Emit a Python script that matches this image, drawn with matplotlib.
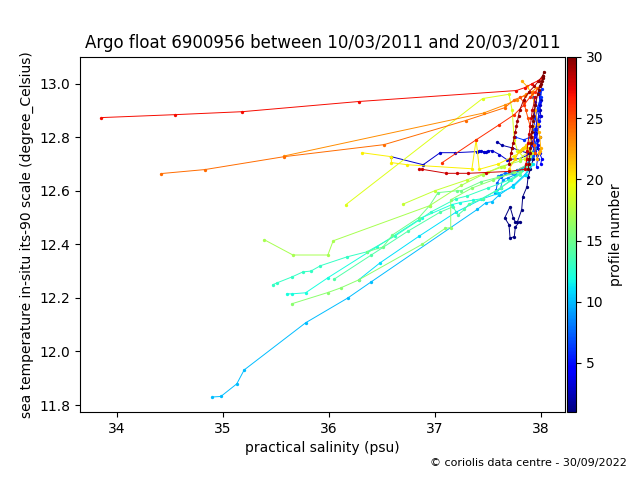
import numpy as np
import matplotlib
matplotlib.use("Agg")
import matplotlib.pyplot as plt
from matplotlib import cm
from matplotlib.colors import Normalize

# (salinity, temperature) pairs per profile
p01 = [(37.99, 12.80), (37.96, 12.76), (37.93, 12.72), (37.90, 12.68), (37.88, 12.65),
       (37.87, 12.615), (37.83, 12.578), (37.82, 12.529), (37.78, 12.484), (37.76, 12.484),
       (37.74, 12.499), (37.71, 12.54), (37.66, 12.499), (37.70, 12.473), (37.71, 12.424),
       (37.75, 12.428), (37.76, 12.465), (37.80, 12.484)]
p02 = [(37.59, 12.783), (37.63, 12.77), (37.73, 12.76), (37.80, 12.75), (37.88, 12.74),
       (37.93, 12.77), (37.95, 12.82), (37.97, 12.86), (37.99, 12.90), (38.00, 12.94), (37.98, 12.96)]
p03 = [(36.59, 12.727), (36.89, 12.697), (37.05, 12.742), (37.19, 12.742), (37.40, 12.746),
       (37.42, 12.748), (37.44, 12.748), (37.46, 12.746), (37.48, 12.746), (37.50, 12.748),
       (37.54, 12.75), (37.61, 12.735), (37.68, 12.716), (37.80, 12.72), (37.92, 12.74),
       (37.96, 12.79), (37.98, 12.84), (38.00, 12.88), (37.99, 12.92)]
p04 = [(37.93, 12.95), (37.95, 12.93), (37.95, 12.92), (37.94, 12.90), (37.94, 12.88),
       (37.96, 12.86), (37.96, 12.85), (37.95, 12.83), (37.95, 12.81), (37.97, 12.79),
       (37.97, 12.77), (37.98, 12.755), (37.99, 12.74), (38.01, 12.72), (38.00, 12.70)]
p05 = [(37.98, 12.97), (37.99, 12.95), (37.99, 12.93), (37.97, 12.91), (37.97, 12.90),
       (37.98, 12.88), (37.98, 12.86), (37.97, 12.845), (37.96, 12.83), (37.94, 12.80),
       (37.93, 12.785), (37.92, 12.77), (37.95, 12.75), (37.96, 12.735), (37.97, 12.72), (37.96, 12.69)]
p06 = [(37.76, 12.80), (37.84, 12.79), (37.90, 12.80), (37.93, 12.83), (37.95, 12.87),
       (37.97, 12.91), (38.00, 12.95), (38.01, 12.98)]
p07 = [(37.58, 12.603), (37.59, 12.63), (37.62, 12.65), (37.70, 12.665), (37.80, 12.68),
       (37.88, 12.70), (37.93, 12.73), (37.95, 12.78)]
p08 = [(37.60, 12.655), (37.62, 12.658), (37.66, 12.665), (37.73, 12.667), (37.78, 12.679),
       (37.80, 12.68), (37.82, 12.68), (37.88, 12.70), (37.92, 12.74), (37.95, 12.76)]
p09 = [(37.57, 12.59), (37.62, 12.61), (37.64, 12.64), (37.69, 12.648), (37.76, 12.66),
       (37.85, 12.69), (37.90, 12.72)]
p10 = [(34.90, 11.83), (34.98, 11.832), (35.13, 11.879), (35.20, 11.931), (35.78, 12.107),
       (36.18, 12.20), (36.40, 12.26), (37.40, 12.53), (37.48, 12.555), (37.54, 12.559),
       (37.61, 12.585), (37.74, 12.62), (37.85, 12.66), (37.92, 12.70)]
p11 = [(36.28, 12.267), (36.48, 12.33), (36.85, 12.43), (37.20, 12.52), (37.45, 12.57),
       (37.60, 12.59), (37.74, 12.615), (37.86, 12.66), (37.93, 12.70)]
p12 = [(35.60, 12.215), (35.65, 12.215), (35.78, 12.219), (35.99, 12.275), (36.45, 12.39),
       (36.88, 12.50), (37.16, 12.548), (37.24, 12.556), (37.36, 12.565), (37.44, 12.57),
       (37.58, 12.60), (37.72, 12.64), (37.86, 12.68)]
p13 = [(35.47, 12.249), (35.51, 12.256), (35.65, 12.278), (35.755, 12.297), (35.83, 12.30),
       (35.92, 12.32), (36.17, 12.353), (36.36, 12.372), (36.62, 12.43), (36.85, 12.49),
       (36.96, 12.52), (37.20, 12.57), (37.30, 12.58), (37.50, 12.61), (37.70, 12.64), (37.86, 12.68)]
p14 = [(36.05, 12.27), (36.40, 12.36), (36.75, 12.45), (37.05, 12.52), (37.17, 12.54),
       (37.22, 12.51), (37.28, 12.53), (37.32, 12.55), (37.45, 12.57), (37.62, 12.61),
       (37.80, 12.66), (37.90, 12.70)]
p15 = [(36.36, 12.372), (36.51, 12.39), (36.60, 12.435), (36.85, 12.50), (36.95, 12.544),
       (37.03, 12.593), (37.21, 12.60), (37.25, 12.60), (37.44, 12.634), (37.60, 12.65),
       (37.80, 12.67), (37.90, 12.70)]
p16 = [(35.65, 12.178), (35.99, 12.22), (36.11, 12.237), (36.28, 12.267), (36.88, 12.40),
       (37.10, 12.46), (37.15, 12.462), (37.15, 12.566), (37.35, 12.61), (37.55, 12.64),
       (37.75, 12.67), (37.88, 12.70)]
p17 = [(35.39, 12.417), (35.66, 12.36), (35.99, 12.36), (36.04, 12.413), (36.95, 12.544),
       (37.25, 12.62), (37.45, 12.66), (37.62, 12.69), (37.80, 12.71), (37.90, 12.73)]
p18 = [(36.70, 12.55), (37.00, 12.60), (37.30, 12.64), (37.50, 12.67), (37.65, 12.69),
       (37.80, 12.72), (37.90, 12.75)]
p19 = [(36.16, 12.548), (37.45, 12.944), (37.70, 12.96), (37.73, 12.90), (37.75, 12.79),
       (37.78, 12.75), (37.85, 12.72), (37.92, 12.74)]
p20 = [(36.31, 12.742), (36.59, 12.727), (36.59, 12.705), (36.74, 12.697), (37.35, 12.682),
       (37.39, 12.79), (37.42, 12.68), (37.60, 12.70), (37.75, 12.73), (37.88, 12.76)]
p21 = [(37.70, 12.68), (37.76, 12.72), (37.80, 12.75), (37.82, 12.755), (37.83, 12.76),
       (37.85, 12.765), (37.86, 12.77), (37.89, 12.78), (37.91, 12.80), (37.93, 12.84)]
p22 = [(37.82, 13.01), (37.87, 12.99), (37.92, 12.96), (37.95, 12.90), (37.97, 12.85),
       (37.98, 12.82), (37.99, 12.80), (38.00, 12.76), (37.99, 12.75), (37.98, 12.74), (37.96, 12.72)]
p23 = [(35.58, 12.73), (37.46, 12.89), (37.66, 12.92), (37.78, 12.94), (37.86, 12.96),
       (37.92, 12.97), (37.96, 12.985)]
p24 = [(34.415, 12.664), (34.83, 12.679), (35.575, 12.727), (36.52, 12.772), (37.29, 12.862),
       (37.66, 12.91), (37.75, 12.94), (37.85, 12.955), (37.92, 12.97)]
p25 = [(37.80, 12.95), (37.84, 12.93), (37.86, 12.90), (37.88, 12.87), (37.90, 12.84),
       (37.92, 12.80), (37.94, 12.77), (37.95, 12.74)]
p26 = [(37.07, 12.705), (37.39, 12.79), (37.61, 12.847), (37.75, 12.884), (37.84, 12.92),
       (37.90, 12.95), (37.95, 12.97), (37.99, 12.99)]
p27 = [(33.85, 12.873), (34.55, 12.884), (35.18, 12.895), (36.28, 12.933), (37.77, 12.974),
       (37.85, 12.985), (37.92, 13.00), (37.97, 13.01), (38.01, 13.02)]
p28 = [(36.85, 12.68), (36.88, 12.68), (37.11, 12.665), (37.21, 12.665), (37.31, 12.665),
       (37.48, 12.668), (37.70, 12.672), (37.85, 12.68), (37.86, 12.70), (37.87, 12.72),
       (37.87, 12.75), (37.88, 12.78), (37.89, 12.81), (37.90, 12.84), (37.91, 12.87),
       (37.92, 12.90), (37.95, 12.95)]
p29 = [(37.70, 12.70), (37.71, 12.72), (37.72, 12.74), (37.73, 12.76), (37.74, 12.78),
       (37.75, 12.80), (37.76, 12.82), (37.77, 12.84), (37.78, 12.86), (37.79, 12.88),
       (37.80, 12.90), (37.84, 12.94), (37.89, 12.97), (37.94, 12.99), (37.98, 13.01), (38.02, 13.03)]
p30 = [(37.88, 12.68), (37.89, 12.70), (37.89, 12.72), (37.90, 12.74), (37.90, 12.76),
       (37.91, 12.78), (37.91, 12.80), (37.92, 12.82), (37.92, 12.84), (37.93, 12.86),
       (37.93, 12.88), (37.95, 12.92), (37.97, 12.96), (37.98, 12.975), (37.99, 12.99),
       (38.00, 13.00), (38.01, 13.01), (38.02, 13.02), (38.02, 13.03), (38.03, 13.045)]

profiles = [p01, p02, p03, p04, p05, p06, p07, p08, p09, p10,
            p11, p12, p13, p14, p15, p16, p17, p18, p19, p20,
            p21, p22, p23, p24, p25, p26, p27, p28, p29, p30]

fig = plt.figure(figsize=(6.4, 4.8), dpi=100)
ax = fig.add_axes([0.125, 0.1417, 0.758, 0.74])
cax = fig.add_axes([0.886, 0.1417, 0.014, 0.74])

norm = Normalize(vmin=1, vmax=len(profiles))
cmap = plt.get_cmap("jet")

for n, prof in enumerate(profiles, start=1):
    s, t = np.array(prof).T
    ax.plot(s, t, '-o', color=cmap(norm(n)), lw=0.7, ms=2.4, mew=0)

ax.set_xlim(33.65, 38.23)
ax.set_ylim(11.774, 13.10)
ax.set_xlabel("practical salinity (psu)")
ax.set_ylabel("sea temperature in-situ its-90 scale (degree_Celsius)")
ax.set_title("Argo float 6900956 between 10/03/2011 and 20/03/2011")

sm = cm.ScalarMappable(norm=norm, cmap=cmap)
cb = fig.colorbar(sm, cax=cax)
cb.set_label("profile number")

fig.text(0.98, 0.03, "\u00a9 coriolis data centre - 30/09/2022", ha="right", fontsize=8)

fig.savefig("out.png", dpi=100)
